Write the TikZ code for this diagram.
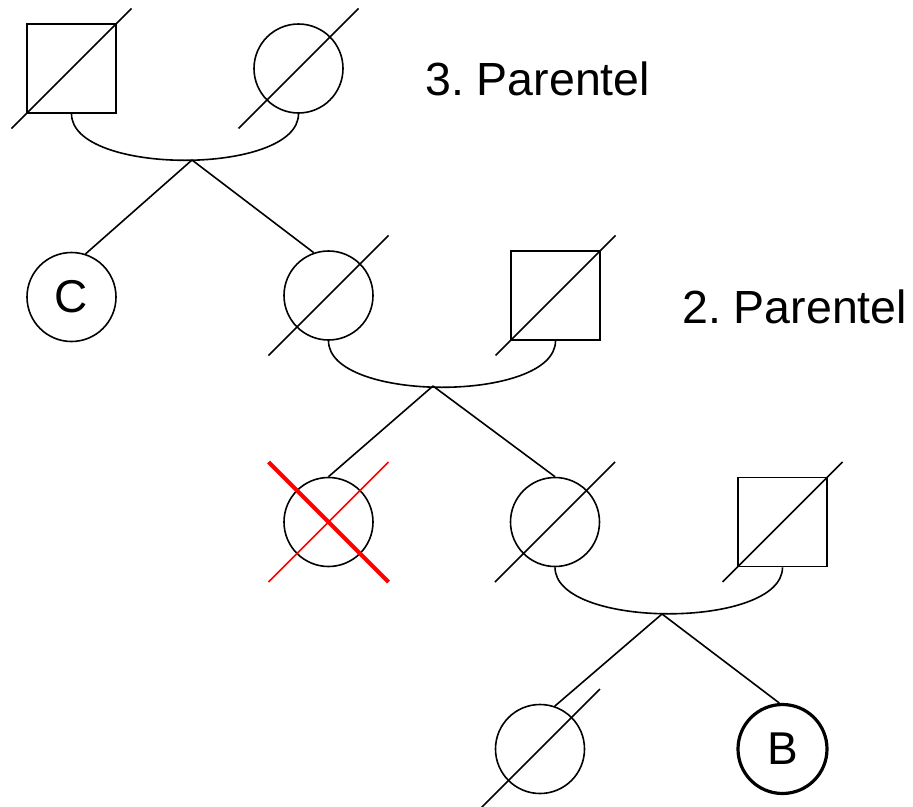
\documentclass[tikz,border=0pt]{standalone}
\usepackage{fontspec}
\setmainfont{Liberation Sans}
\frenchspacing
\begin{document}
\begin{tikzpicture}[x=1pt,y=-1pt,
  line/.style={line width=1.6pt, line cap=butt},
  person/.style={draw, line width=1.6pt, inner sep=0pt, minimum size=89pt,
                 font=\fontsize{46}{55}\selectfont},
  female/.style={person, circle},
  male/.style={person, rectangle},
  proband/.style={female, line width=3.2pt},
  label/.style={anchor=base west, inner sep=0pt, font=\fontsize{46.5}{56}\selectfont},
  crossbold/.style={red, line width=4pt},
  crossthin/.style={red, line width=1.6pt}]
\useasboundingbox (0,0) rectangle (913,806);

% generation labels
\node[label] (l3) at (425,95) {3. Parentel};
\node[label] (l2) at (682,323) {2. Parentel};

% persons
\node[male]   (gf)  at (71.5,68.5)  {};
\node[female] (gm)  at (298.5,68.5) {};
\node[female] (c)   at (71.5,297)   {C};
\node[female] (m1)  at (328.5,295.5) {};
\node[male]   (f1)  at (555.5,295.5) {};
\node[female] (x)   at (328.5,522)  {};
\node[female] (m2)  at (555,522)    {};
\node[male]   (f2)  at (782.5,522)  {};
\node[female] (s)   at (540,749)    {};
\node[proband] (b)  at (782.5,749)  {B};

% deceased slashes
\foreach \n in {gf,gm,m1,f1,m2,f2,s}
  \draw[line] ([shift={(-60,60)}]\n.center) -- ([shift={(60,-60)}]\n.center);

% crossed-out person
\draw[crossthin] ([shift={(-60,60)}]x.center) -- ([shift={(60,-60)}]x.center);
\draw[crossbold] ([shift={(-60,-60)}]x.center) -- ([shift={(60,60)}]x.center);

% partnerships
\draw[line] (gf.south) .. controls +(0,62) and +(0,62) .. (gm.south);
\draw[line] (m1.south) .. controls +(0,62) and +(0,62) .. (f1.south);
\draw[line] (m2.south) .. controls +(0,62) and +(0,62) .. (f2.south);

\coordinate (j1) at (192,160);
\coordinate (j2) at (433,386);
\coordinate (j3) at (662,614);

% descent lines
\draw[line] (j1) -- (c.72);
\draw[line] (j1) -- (m1.109);
\draw[line] (j2) -- (x.90);
\draw[line] (j2) -- (m2.90);
\draw[line] (j3) -- (s.71);
\draw[line] (j3) -- (b.94);
\end{tikzpicture}
\end{document}
